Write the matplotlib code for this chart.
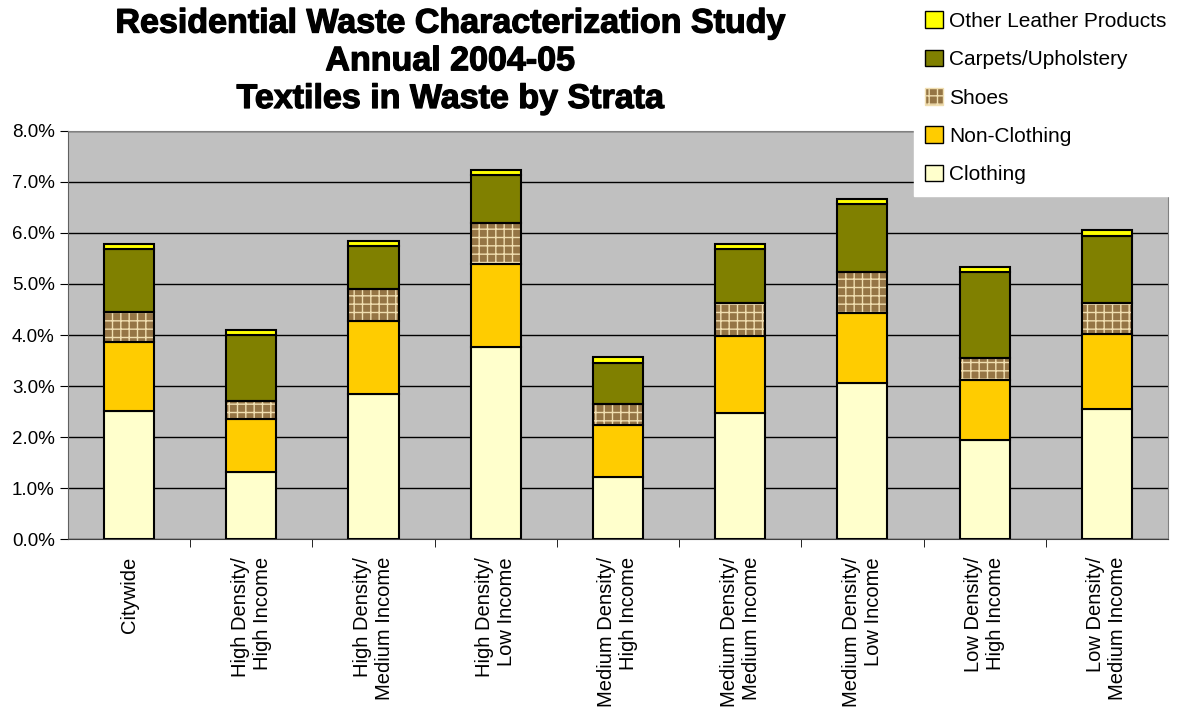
import numpy as np
import matplotlib
matplotlib.use('Agg')
import matplotlib.pyplot as plt
import matplotlib.patheffects as pe
from matplotlib.patches import Patch

plt.rcParams['font.family'] = ['Liberation Sans', 'DejaVu Sans']

strata = ['Citywide', 'High Density/\nHigh Income', 'High Density/\nMedium Income',
          'High Density/\nLow Income', 'Medium Density/\nHigh Income',
          'Medium Density/\nMedium Income', 'Medium Density/\nLow Income',
          'Low Density/\nHigh Income', 'Low Density/\nMedium Income']

# percent of waste
clothing = [2.51, 1.31, 2.84, 3.77, 1.21, 2.47, 3.05, 1.94, 2.54]
non_clothing = [1.35, 1.04, 1.43, 1.62, 1.03, 1.51, 1.38, 1.18, 1.47]
shoes = [0.59, 0.36, 0.63, 0.81, 0.40, 0.65, 0.80, 0.42, 0.61]
carpets = [1.24, 1.29, 0.85, 0.94, 0.82, 1.06, 1.33, 1.70, 1.33]
leather = [0.09, 0.10, 0.09, 0.10, 0.10, 0.09, 0.10, 0.10, 0.10]

fig = plt.figure(figsize=(11.78, 7.13), dpi=100)
ax = fig.add_axes([0.0577, 0.244, 0.9338, 0.5723])
ax.set_facecolor('#c0c0c0')

x = np.arange(len(strata))
w = 0.41
bottom = np.zeros(len(strata))

ax.bar(x, clothing, w, bottom=bottom, color='#ffffcc', edgecolor='black', lw=1.5, zorder=3)
bottom += clothing
ax.bar(x, non_clothing, w, bottom=bottom, color='#ffcc00', edgecolor='black', lw=1.5, zorder=3)
bottom += non_clothing
# shoes: woven texture then outline
ax.bar(x, shoes, w, bottom=bottom, color='#957545', edgecolor='#f0deb0', hatch='++', lw=0, zorder=3)
ax.bar(x, shoes, w, bottom=bottom, fill=False, edgecolor='black', lw=1.5, zorder=4)
bottom += shoes
ax.bar(x, carpets, w, bottom=bottom, color='#808000', edgecolor='black', lw=1.5, zorder=3)
bottom += carpets
ax.bar(x, leather, w, bottom=bottom, color='#ffff00', edgecolor='black', lw=1.5, zorder=3)

ax.set_xlim(-0.5, len(strata) - 0.5)
ax.set_ylim(0, 8)
ax.set_yticks(np.arange(0, 9, 1))
ax.set_yticklabels(['%.1f%%' % v for v in np.arange(0, 9, 1)], fontsize=13.5)
ax.yaxis.grid(True, color='black', lw=1, zorder=1)
ax.set_axisbelow(True)

ax.set_xticks(x)
ax.set_xticklabels([])
ax.tick_params(axis='x', length=0)
ax.set_xticks(np.arange(0.5, len(strata) - 1, 1), minor=True)
ax.tick_params(axis='x', which='minor', length=6, direction='out')
ax.tick_params(axis='y', length=6, direction='out')
for i, s in enumerate(strata):
    ax.text(i, -0.35, s, rotation=90, ha='center', va='top', multialignment='right',
            fontsize=14.5, transform=ax.transData)

for sp in ['top', 'right']:
    ax.spines[sp].set_color('#808080')
ax.spines['left'].set_color('#606060')
ax.spines['bottom'].set_color('#404040')

fig.text(0.382, 0.988, 'Residential Waste Characterization Study\nAnnual 2004-05\nTextiles in Waste by Strata',
         ha='center', va='top', fontsize=24.5, fontweight='bold', linespacing=1.28,
         path_effects=[pe.withStroke(linewidth=0.9, foreground='black')])

handles = [Patch(facecolor='#ffff00', edgecolor='black', label='Other Leather Products'),
           Patch(facecolor='#808000', edgecolor='black', label='Carpets/Upholstery'),
           Patch(facecolor='#957545', edgecolor='#f0deb0', hatch='++', label='Shoes'),
           Patch(facecolor='#ffcc00', edgecolor='black', label='Non-Clothing'),
           Patch(facecolor='#ffffcc', edgecolor='black', label='Clothing')]
leg = fig.legend(handles=handles, loc='upper right', bbox_to_anchor=(1.0, 1.0),
                 fontsize=15, frameon=True, fancybox=False, edgecolor='white',
                 facecolor='white', framealpha=1, handlelength=0.85, handleheight=0.85,
                 handletextpad=0.3, labelspacing=0.9, borderpad=0.55, borderaxespad=0)
leg.set_zorder(10)

fig.savefig('out.png', dpi=100)
